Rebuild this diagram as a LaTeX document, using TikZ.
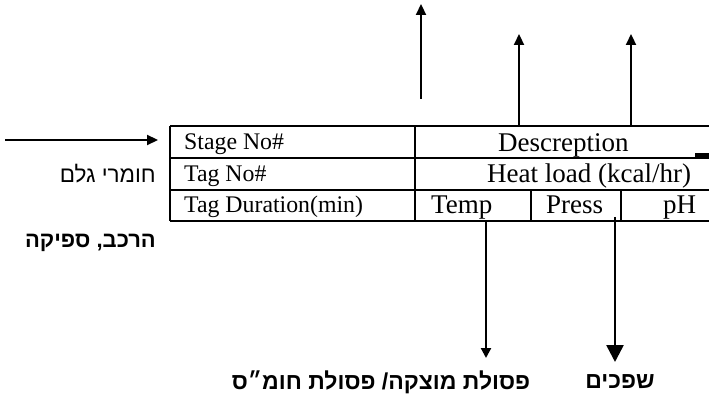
\documentclass[tikz,border=0pt]{standalone}
\usepackage{fontspec}
\setmainfont{Liberation Serif}
\newfontfamily\hebfont[Script=Hebrew,BoldFont={Liberation Sans Bold}]{Liberation Sans}
\TeXXeTstate=1
\usetikzlibrary{arrows.meta}
\tikzset{
  gridline/.style={line width=1.9pt},
  smalltxt/.style={font=\fontsize{23.8}{25}\selectfont, inner sep=0pt, anchor=base west},
  bigtxt/.style={font=\fontsize{27}{29}\selectfont, inner sep=0pt, anchor=base west},
  hebtxt/.style={font=\hebfont\fontsize{22.5}{24}\selectfont, inner sep=0pt},
  hebbold/.style={font=\hebfont\bfseries\fontsize{23}{25}\selectfont, inner sep=0pt},
  arr/.style={line width=2.2pt, -{Triangle[length=11pt,width=10pt]}},
  arrsmall/.style={line width=2.2pt, -{Triangle[length=10pt,width=10pt]}},
  arrbig/.style={line width=2.6pt, -{Triangle[length=17pt,width=17pt]}},
}
\begin{document}
\begin{tikzpicture}[x=1pt,y=-1pt]
\useasboundingbox (0,0) rectangle (709,395);
% table grid
\draw[gridline] (170,126) -- (709,126);
\draw[gridline] (170,158) -- (709,158);
\draw[gridline] (170,190) -- (709,190);
\draw[gridline] (170,221) -- (709,221);
\draw[gridline] (170,126) -- (170,221);
\draw[gridline] (415,126) -- (415,221);
\draw[gridline] (531,190) -- (531,221);
\draw[gridline] (621,190) -- (621,221);
\fill (695,153) rectangle (709,157);
% cell texts
\node[smalltxt] (stage) at (184,150) {Stage No\#};
\node[smalltxt] (tag) at (184,182) {Tag No\#};
\node[smalltxt] (dur) at (184,213) {Tag Duration(min)};
\node[bigtxt] (desc) at (498,151.5) {Descreption};
\node[bigtxt] (heat) at (487,183) {Heat load (kcal/hr)};
\node[bigtxt] (temp) at (431,214) {Temp};
\node[bigtxt] (press) at (546,214) {Press};
\node[bigtxt] (ph) at (663,214) {pH};
% Hebrew labels
\node[hebtxt, anchor=east] (raw) at (156,174) {\beginR חומרי גלם\endR};
\node[hebbold, anchor=east, font=\hebfont\bfseries\fontsize{22}{24}\selectfont] (comp) at (156,243) {\beginR הרכב, ספיקה\endR};
\node[hebbold] (waste) at (381,382) {\beginR פסולת מוצקה/ פסולת חומ״ס\endR};
\node[hebbold] (sewage) at (620,382) {\beginR שפכים\endR};
% arrow end points
\coordinate (inS) at (5,140);
\coordinate (inE) at (158,140);
\coordinate (u1S) at (421,99);
\coordinate (u1E) at (421,4);
\coordinate (u2S) at (519,126);
\coordinate (u2E) at (519,34);
\coordinate (u3S) at (631,126);
\coordinate (u3E) at (631,34);
\coordinate (d1S) at (486,222);
\coordinate (d1E) at (486,358);
\coordinate (d2S) at (615,217);
\coordinate (d2E) at (615,362);
% arrows
\draw[arr] (inS) -- (inE);
\draw[arr] (u1S) -- (u1E);
\draw[arr] (u2S) -- (u2E);
\draw[arr] (u3S) -- (u3E);
\draw[arrsmall] (d1S) -- (d1E);
\draw[arrbig] (d2S) -- (d2E);
\end{tikzpicture}
\end{document}
